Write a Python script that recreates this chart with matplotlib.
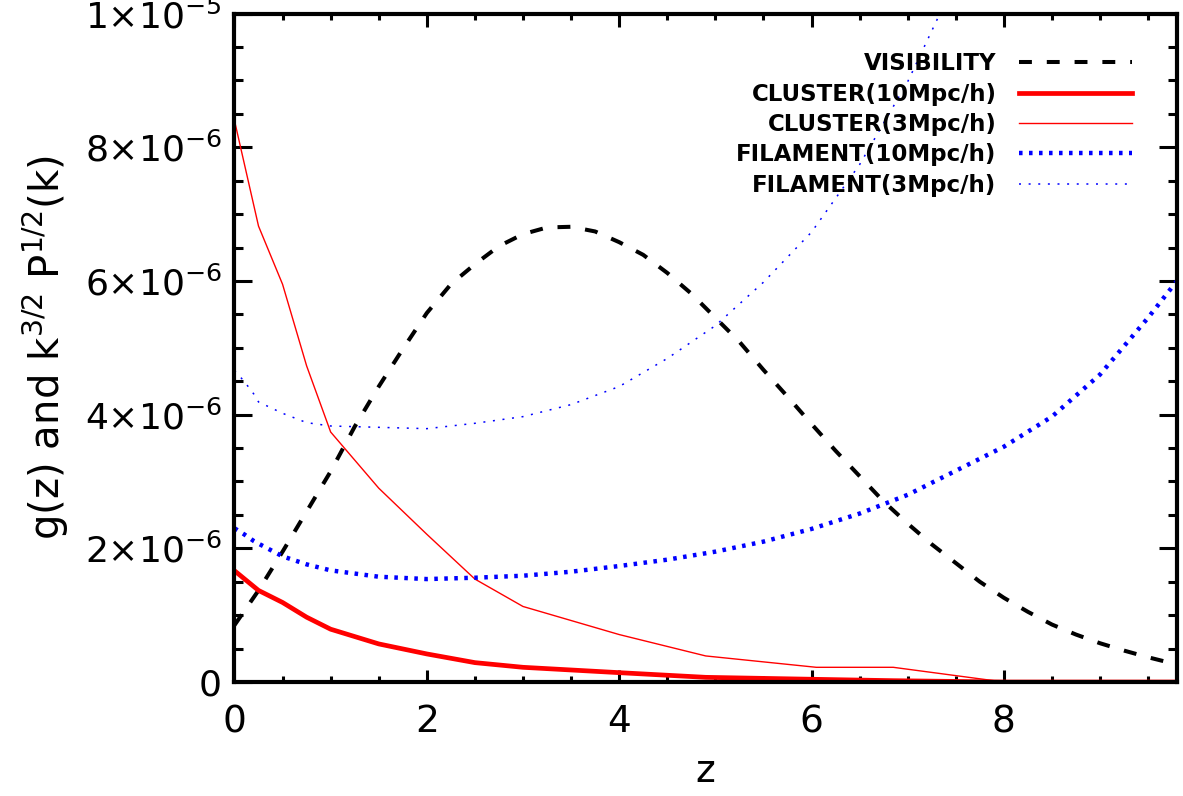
import matplotlib
matplotlib.use("Agg")
import matplotlib.pyplot as plt
from matplotlib.ticker import FixedLocator, FixedFormatter, MultipleLocator

# ---- data ----
z_vis = [0.0, 0.25, 0.5, 0.75, 1.0, 1.25, 1.5, 1.75, 2.0, 2.25, 2.5, 2.75, 3.0, 3.25,
         3.5, 3.75, 4.0, 4.25, 4.5, 4.75, 5.0, 5.25, 5.5, 5.75, 6.0, 6.25, 6.5, 6.75,
         7.0, 7.25, 7.5, 7.75, 8.0, 8.25, 8.5, 8.75, 9.0, 9.25, 9.5, 9.75, 9.8]
visibility = [0.85, 1.37, 1.95, 2.55, 3.15, 3.82, 4.42, 4.98, 5.52, 5.95, 6.25, 6.52,
              6.70, 6.80, 6.81, 6.74, 6.58, 6.39, 6.12, 5.81, 5.45, 5.09, 4.67, 4.27,
              3.86, 3.46, 3.08, 2.70, 2.37, 2.06, 1.78, 1.50, 1.26, 1.05, 0.86, 0.71,
              0.58, 0.47, 0.37, 0.28, 0.26]

z_cl = [0.0, 0.25, 0.5, 0.75, 1.0, 1.5, 2.0, 2.5, 3.0, 4.0, 4.9, 6.05, 6.85, 8.0, 9.0, 9.8]
cluster_10 = [1.665, 1.37, 1.19, 0.97, 0.79, 0.57, 0.42, 0.29, 0.22, 0.14, 0.07, 0.04,
              0.02, 0.0, 0.0, 0.0]
cluster_3 = [8.40, 6.82, 5.95, 4.73, 3.74, 2.90, 2.21, 1.54, 1.13, 0.71, 0.39, 0.22,
             0.22, 0.0, 0.0, 0.0]

z_fil = [0.0, 0.1, 0.2, 0.25, 0.5, 0.75, 1.0, 1.5, 2.0, 2.5, 3.0, 3.5, 4.0, 4.5, 5.0,
         5.5, 6.0, 6.5, 7.0, 7.5, 8.0, 8.5, 9.0, 9.5, 9.8]
filament_10 = [2.30, 2.21, 2.11, 2.07, 1.88, 1.76, 1.67, 1.575, 1.54, 1.56, 1.59, 1.65,
               1.735, 1.83, 1.95, 2.10, 2.29, 2.52, 2.80, 3.16, 3.52, 3.97, 4.60, 5.45,
               6.0]
filament_3 = [4.66, 4.50, 4.31, 4.19, 4.02, 3.88, 3.83, 3.81, 3.79, 3.87, 3.97, 4.15,
              4.42, 4.84, 5.33, 5.98, 6.73, 7.74, 8.98, 10.5, 12.3, 14.3, 16.6, 19.2,
              21.0]

scale = 1e-6
labels = ["VISIBILITY", "CLUSTER(10Mpc/h)", "CLUSTER(3Mpc/h)",
          "FILAMENT(10Mpc/h)", "FILAMENT(3Mpc/h)"]
x_ticks = [0, 2, 4, 6, 8]
x_ticklabels = ["0", "2", "4", "6", "8"]
y_ticks = [0, 2e-6, 4e-6, 6e-6, 8e-6, 1e-5]
y_ticklabels = ["0", r"$2{\times}10^{-6}$", r"$4{\times}10^{-6}$", r"$6{\times}10^{-6}$",
                r"$8{\times}10^{-6}$", r"$1{\times}10^{-5}$"]

# ---- figure ----
plt.rcParams['font.family'] = ['DejaVu Sans']
plt.rcParams['mathtext.fontset'] = 'dejavusans'
fig = plt.figure(figsize=(11.83, 7.96), dpi=100)
ax = fig.add_axes([0.1982, 0.1432, 0.7967, 0.8398])

def sc(v):
    return [a * scale for a in v]

ax.plot(z_vis, sc(visibility), color='black', lw=2.9, linestyle=(0, (3.2, 3.7)),
        label=labels[0])
ax.plot(z_cl, sc(cluster_10), color='red', lw=3.4, solid_joinstyle='round',
        label=labels[1])
ax.plot(z_cl, sc(cluster_3), color='red', lw=1.0, label=labels[2])
ax.plot(z_fil, sc(filament_10), color='blue', lw=3.2, linestyle=(0, (0.8, 1.45)),
        dash_capstyle='butt', label=labels[3])
ax.plot(z_fil, sc(filament_3), color='blue', lw=1.1, linestyle=(0, (1.3, 5.0)),
        dash_capstyle='butt', label=labels[4])

ax.set_xlim(0, 9.8)
ax.set_ylim(0, 1e-5)

ax.xaxis.set_major_locator(FixedLocator(x_ticks))
ax.xaxis.set_major_formatter(FixedFormatter(x_ticklabels))
ax.xaxis.set_minor_locator(MultipleLocator(0.5))
ax.yaxis.set_major_locator(FixedLocator(y_ticks))
ax.yaxis.set_major_formatter(FixedFormatter(y_ticklabels))
ax.yaxis.set_minor_locator(MultipleLocator(0.5e-6))

for s in ax.spines.values():
    s.set_linewidth(3.0)
ax.tick_params(axis='both', which='both', direction='in', top=True, right=True,
               width=2.2)
ax.tick_params(axis='x', which='major', length=9, pad=16, labelsize=27)
ax.tick_params(axis='x', which='minor', length=4.5)
ax.tick_params(axis='y', which='major', length=13, pad=9, labelsize=26)
ax.tick_params(axis='y', which='minor', length=6.5)

ax.set_xlabel("z", fontsize=27, labelpad=10)
ax.set_ylabel(r"g(z) and k$^{3/2}$ P$^{1/2}$(k)", fontsize=29, labelpad=10)

leg = ax.legend(loc='upper right', bbox_to_anchor=(0.952, 0.942), frameon=False,
                markerfirst=False, alignment='right',
                prop={'weight': 'bold', 'size': 16.5},
                handlelength=4.9, handletextpad=1.0, labelspacing=0.32,
                borderpad=0, borderaxespad=0)

fig.savefig("out.png", dpi=100)
